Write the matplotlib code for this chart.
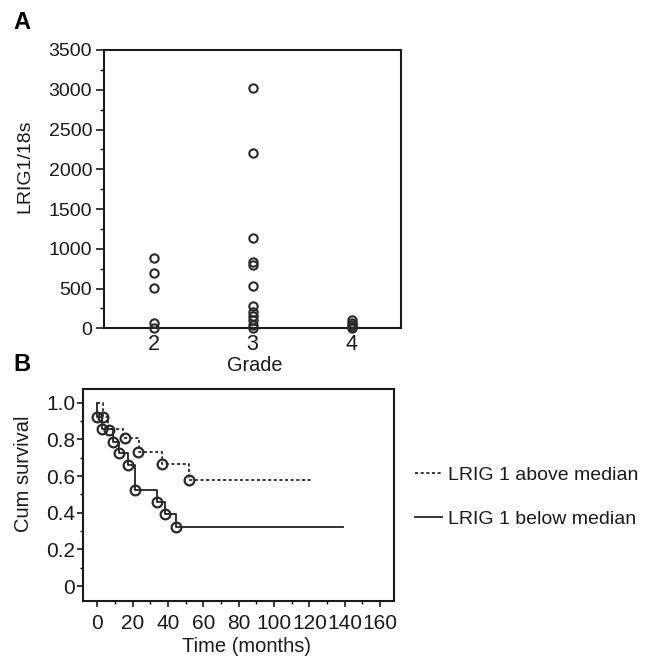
import matplotlib
matplotlib.use("Agg")
import matplotlib.pyplot as plt
from matplotlib.ticker import MultipleLocator

plt.rcParams['font.family'] = ['Liberation Sans', 'DejaVu Sans']

# ---- Panel A data ----
grades = [2, 3, 4]
grade2_vals = [880, 700, 510, 70, 0]
grade3_vals = [3020, 2200, 1140, 830, 790, 530, 280, 210, 160, 100, 40, 0]
grade4_vals = [100, 70, 40, 15, 0]
a_yticks = [0, 500, 1000, 1500, 2000, 2500, 3000, 3500]

# ---- Panel B data ----
above_label = "LRIG 1 above median"
above_times = [3, 6, 14.7, 23.5, 36.4, 52]
above_surv = [0.92, 0.855, 0.806, 0.732, 0.668, 0.578]
above_end = 122
above_cens_t = [3.4, 6.6, 15.7, 22.9, 36.4, 52]
above_cens_s = [0.92, 0.851, 0.806, 0.731, 0.666, 0.578]

below_label = "LRIG 1 below median"
below_times = [0, 2.5, 8.7, 12.5, 17.2, 21.5, 33.8, 38, 44.7]
below_surv = [0.92, 0.858, 0.787, 0.726, 0.66, 0.523, 0.457, 0.395, 0.322]
below_end = 139
below_cens_t = [0, 2.5, 8.7, 12.5, 17.2, 21.5, 33.8, 38, 44.7]
below_cens_s = [0.92, 0.858, 0.787, 0.726, 0.66, 0.523, 0.457, 0.395, 0.322]

b_xticks = [0, 20, 40, 60, 80, 100, 120, 140, 160]
b_yticks = [0, 0.2, 0.4, 0.6, 0.8, 1.0]
b_yticklabels = ["0", "0.2", "0.4", "0.6", "0.8", "1.0"]

W, H = 654, 660
fig = plt.figure(figsize=(W / 100, H / 100), dpi=100)

def fx(px):
    return px / W

def fy(py):
    return 1 - py / H

FS = 14
ink = "#1a1a1a"

# ---------------- Panel A ----------------
axA = fig.add_axes([fx(104), fy(328.3), fx(401) - fx(104), fy(50) - fy(328.3)])
for g, vals in zip(grades, [grade2_vals, grade3_vals, grade4_vals]):
    axA.plot([g] * len(vals), vals, linestyle='none', marker='o', ms=6.0,
             mfc='none', mec='#2a2a2a', mew=1.5, clip_on=False, zorder=3)
axA.set_xlim(1.5, 4.5)
axA.set_ylim(0, 3500)
axA.set_xticks(grades)
axA.set_xticklabels([str(g) for g in grades])
axA.set_yticks(a_yticks)
axA.set_yticklabels([str(v) for v in a_yticks])
axA.yaxis.set_minor_locator(MultipleLocator(250))
axA.tick_params(axis='y', which='major', direction='out', length=5.5, width=1.2,
                pad=3, labelsize=FS, colors=ink)
axA.tick_params(axis='y', which='minor', direction='out', length=3, width=1.0)
axA.tick_params(axis='x', which='major', direction='out', length=0, pad=4,
                labelsize=15.5, colors=ink)
for sp in axA.spines.values():
    sp.set_linewidth(1.5)
    sp.set_color(ink)

fig.text(fx(24.5), fy(166.7), "LRIG1/18s", rotation=90, ha='center', va='center',
         fontsize=FS, color=ink)
fig.text(fx(254.7), fy(365.5), "Grade", ha='center', va='center', fontsize=FS + 0.3,
         color=ink)
fig.text(fx(13), fy(22.5), "A", ha='left', va='center', fontsize=17,
         fontweight='bold', color='black')

# ---------------- Panel B ----------------
axB = fig.add_axes([fx(82.7), fy(600.7), fx(394) - fx(82.7), fy(389.3) - fy(600.7)])

ax_t = [0] + above_times + [above_end]
ax_s = [1.0] + above_surv + [above_surv[-1]]
la, = axB.step(ax_t, ax_s, where='post', color='#3a3a3a', lw=1.4,
               linestyle=(0, (1.6, 1.3)), label=above_label)
bx_t = [0] + below_times + [below_end]
bx_s = [1.0] + below_surv + [below_surv[-1]]
lb, = axB.step(bx_t, bx_s, where='post', color='#222222', lw=1.3,
               linestyle='-', label=below_label)
axB.plot(above_cens_t, above_cens_s, linestyle='none', marker='o', ms=7.0,
         mfc='none', mec='#2a2a2a', mew=1.6, zorder=3)
axB.plot(below_cens_t, below_cens_s, linestyle='none', marker='o', ms=7.0,
         mfc='none', mec='#2a2a2a', mew=1.6, zorder=3)

axB.set_xlim(-8.3, 167.9)
axB.set_ylim(-0.080, 1.073)
axB.set_xticks(b_xticks)
axB.set_xticklabels([str(v) for v in b_xticks])
axB.set_yticks(b_yticks)
axB.set_yticklabels(b_yticklabels)
axB.xaxis.set_minor_locator(MultipleLocator(10))
axB.yaxis.set_minor_locator(MultipleLocator(0.1))
axB.tick_params(axis='both', which='major', direction='out', length=4.5, width=1.2,
                labelsize=15, colors=ink)
axB.tick_params(axis='x', which='major', pad=5)
axB.tick_params(axis='y', which='major', pad=1)
axB.tick_params(axis='both', which='minor', direction='out', length=2.5, width=1.0)
for sp in axB.spines.values():
    sp.set_linewidth(1.5)
    sp.set_color(ink)

fig.text(fx(23.3), fy(473.7), "Cum survival", rotation=90, ha='center', va='center',
         fontsize=FS + 0.5, color=ink)
fig.text(fx(246.3), fy(646), "Time (months)", ha='center', va='center',
         fontsize=FS + 0.5, color=ink)
fig.text(fx(13), fy(364.5), "B", ha='left', va='center', fontsize=17,
         fontweight='bold', color='black')

fig.legend(handles=[la, lb], labels=[above_label, below_label],
           loc='upper left', bbox_to_anchor=(fx(415), fy(466)),
           frameon=False, fontsize=FS, handlelength=1.4, handletextpad=0.3,
           borderpad=0, borderaxespad=0, labelspacing=1.36, labelcolor=ink)

fig.savefig("out.png", dpi=100)
